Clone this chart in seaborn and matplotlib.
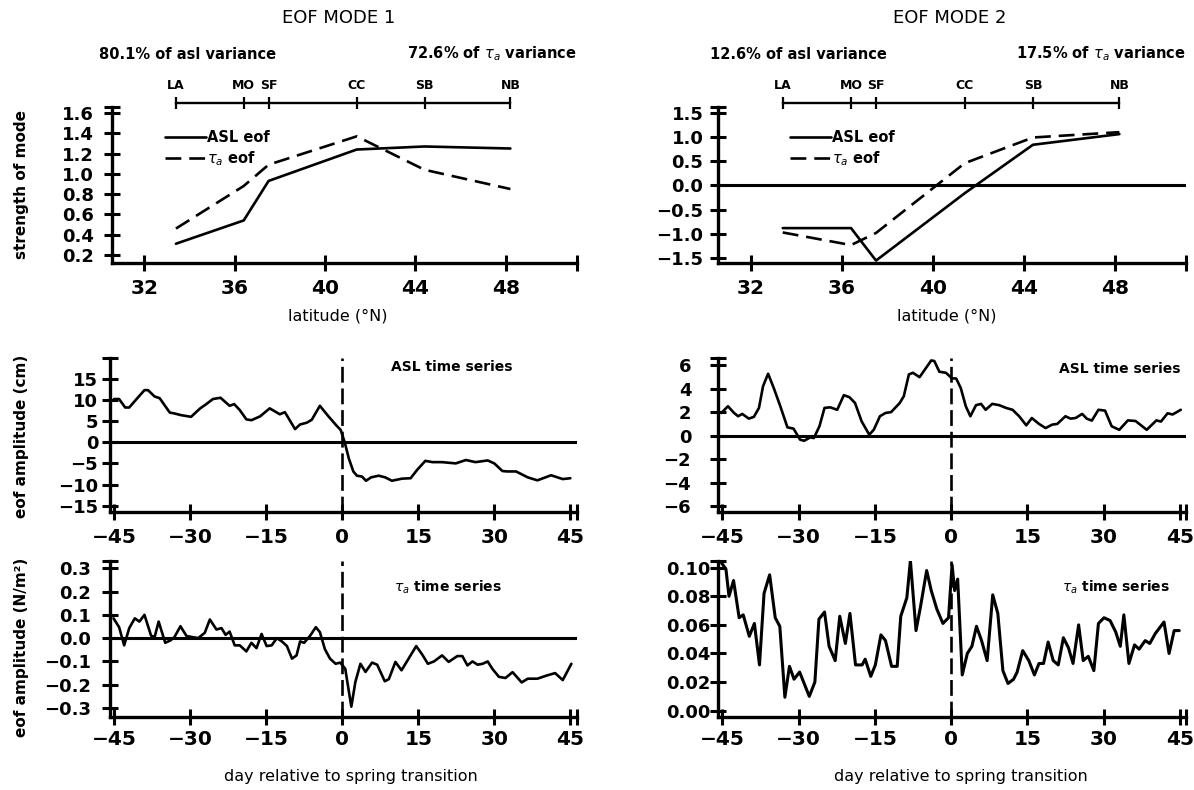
import matplotlib
matplotlib.use("Agg")
import matplotlib.pyplot as plt
import seaborn as sns

sns.set_theme(style="ticks", rc={
    "axes.edgecolor": "black", "text.color": "black", "xtick.color": "black",
    "ytick.color": "black", "axes.labelcolor": "black", "axes.facecolor": "white",
    "figure.facecolor": "white"})
plt.rcParams["font.family"] = ["DejaVu Sans"]
plt.rcParams["axes.unicode_minus"] = True

# ---------------- data ----------------
station_names = ["LA", "MO", "SF", "CC", "SB", "NB"]
station_lat = [33.4, 36.4, 37.5, 41.4, 44.4, 48.2]
mode1_asl = [0.31, 0.54, 0.93, 1.24, 1.27, 1.25]
mode1_tau = [0.46, 0.88, 1.09, 1.37, 1.04, 0.85]
mode2_asl = [-0.88, -0.88, -1.55, -0.16, 0.84, 1.06]
mode2_tau = [-0.97, -1.23, -0.98, 0.46, 0.99, 1.10]

asl1_day = [-45.0, -44.0, -42.8, -42.0, -40.7, -39.0, -38.3, -37.0, -36.0, -34.0,
            -33.1, -31.8, -29.8, -28.0, -26.8, -25.5, -24.0, -22.2, -21.3, -20.2,
            -18.9, -17.9, -16.2, -14.3, -12.3, -11.3, -9.3, -8.3, -7.0, -6.0,
            -4.4, -2.7, -1.1, -0.3, 0.5, 1.3, 2.2, 2.9, 3.9, 4.7,
            5.7, 7.2, 8.5, 9.8, 11.8, 13.5, 14.8, 16.4, 17.8, 19.7,
            22.4, 24.4, 26.3, 28.7, 30.0, 31.6, 32.5, 34.3, 36.6, 38.5,
            41.2, 43.5, 45.0]
asl1_val = [10.2, 10.2, 8.2, 8.2, 10.0, 12.3, 12.3, 10.8, 10.4, 7.0,
            6.8, 6.4, 6.0, 8.0, 9.0, 10.2, 10.5, 8.6, 9.0, 7.6,
            5.4, 5.2, 6.1, 8.0, 6.6, 7.1, 3.1, 4.2, 4.6, 5.3,
            8.6, 6.1, 3.9, 2.9, 0.0, -3.8, -6.9, -7.9, -8.1, -9.1,
            -8.3, -7.9, -8.3, -9.1, -8.6, -8.5, -6.5, -4.4, -4.7, -4.7,
            -5.0, -4.2, -4.7, -4.3, -5.0, -6.8, -6.9, -6.9, -8.3, -9.0,
            -7.8, -8.7, -8.5]

asl2_day = [-45.2, -43.9, -42.7, -41.9, -41.1, -39.8, -38.8, -37.8, -37.0, -36.0,
            -34.9, -33.6, -32.2, -31.0, -29.7, -28.9, -27.7, -27.0, -25.9, -24.9,
            -23.8, -22.4, -21.1, -20.0, -18.9, -17.6, -16.1, -15.2, -14.0, -12.9,
            -11.8, -10.1, -9.3, -8.3, -7.5, -6.2, -4.9, -3.9, -3.3, -2.3,
            -1.0, 0.2, 1.0, 1.9, 2.9, 3.8, 4.9, 5.9, 6.8, 8.1,
            9.5, 10.8, 12.1, 13.4, 14.8, 15.9, 17.3, 18.6, 19.9, 20.9,
            22.5, 23.5, 24.5, 25.8, 26.7, 27.7, 29.0, 30.3, 31.6, 33.1,
            34.8, 36.3, 38.5, 40.4, 41.3, 42.6, 43.6, 45.2]
asl2_val = [1.93, 2.5, 1.93, 1.65, 1.85, 1.45, 1.6, 2.36, 4.2, 5.26,
            4.06, 2.5, 0.71, 0.6, -0.34, -0.43, -0.14, -0.2, 0.8, 2.36,
            2.41, 2.2, 3.44, 3.27, 2.78, 1.22, 0.09, 0.51, 1.65, 1.93,
            2.0, 2.78, 3.35, 5.2, 5.34, 4.97, 5.77, 6.39, 6.34, 5.43,
            5.34, 4.86, 4.86, 4.06, 2.5, 1.65, 2.59, 2.7, 2.2, 2.7,
            2.59, 2.36, 2.2, 1.65, 0.88, 1.5, 1.0, 0.65, 0.94, 1.0,
            1.65, 1.45, 1.5, 1.85, 1.45, 1.28, 2.2, 2.13, 0.8, 0.5,
            1.3, 1.25, 0.5, 1.3, 1.2, 1.9, 1.8, 2.2]

tau1_day = [-45.1, -44.0, -43.0, -42.0, -40.9, -40.0, -39.0, -37.7, -37.0, -36.2,
            -34.9, -33.9, -33.1, -31.9, -30.7, -28.4, -27.1, -26.1, -24.8, -23.8,
            -23.0, -22.2, -21.2, -20.2, -18.9, -17.9, -16.9, -15.9, -14.9, -13.9,
            -12.9, -11.9, -10.9, -9.9, -9.0, -8.3, -7.5, -6.3, -5.2, -4.4,
            -3.4, -2.4, -1.3, -0.4, 0.6, 1.8, 2.6, 3.6, 4.6, 5.9,
            6.9, 8.4, 9.2, 10.5, 11.7, 13.1, 14.6, 15.8, 16.9, 18.1,
            19.7, 21.0, 22.7, 23.7, 24.7, 25.7, 26.7, 27.7, 28.7, 29.6,
            30.9, 32.2, 33.6, 35.4, 36.6, 38.5, 40.4, 42.0, 43.5, 45.2]
tau1_val = [0.085, 0.047, -0.031, 0.043, 0.085, 0.071, 0.100, 0.011, 0.004, 0.071,
            -0.020, -0.010, 0.004, 0.051, 0.009, 0.000, 0.023, 0.080, 0.037, 0.043,
            0.014, 0.028, -0.031, -0.031, -0.057, -0.020, -0.043, 0.018, -0.034, -0.031,
            0.000, -0.014, -0.034, -0.088, -0.074, -0.014, -0.020, 0.011, 0.047, 0.026,
            -0.048, -0.088, -0.110, -0.105, -0.131, -0.294, -0.188, -0.110, -0.145, -0.105,
            -0.114, -0.185, -0.176, -0.102, -0.138, -0.088, -0.034, -0.071, -0.110, -0.100,
            -0.074, -0.102, -0.077, -0.077, -0.117, -0.100, -0.114, -0.110, -0.100, -0.131,
            -0.166, -0.171, -0.146, -0.190, -0.174, -0.174, -0.160, -0.150, -0.180, -0.110]

tau2_day = [-45.2, -44.3, -43.7, -42.8, -41.7, -40.9, -39.7, -38.7, -37.7, -36.8,
            -35.7, -34.6, -33.7, -32.7, -31.8, -30.9, -29.8, -27.9, -26.8, -26.0,
            -24.9, -24.0, -22.8, -21.9, -20.8, -19.9, -18.8, -17.5, -16.9, -15.8,
            -14.9, -13.8, -12.9, -11.7, -10.6, -9.9, -8.7, -8.0, -6.9, -6.0,
            -4.8, -3.9, -2.8, -1.6, -0.5, 0.2, 0.7, 1.3, 2.2, 3.2,
            4.1, 5.0, 6.0, 7.1, 8.2, 9.2, 10.2, 11.2, 12.3, 13.0,
            14.1, 15.3, 16.4, 17.3, 18.2, 19.1, 20.1, 21.1, 22.1, 23.1,
            24.0, 25.1, 26.0, 27.0, 28.1, 29.0, 30.1, 31.3, 32.4, 33.3,
            34.0, 35.0, 36.1, 37.0, 38.2, 39.1, 40.2, 41.9, 42.9, 43.9,
            44.9]
tau2_val = [0.1035, 0.099, 0.080, 0.091, 0.065, 0.067, 0.052, 0.061, 0.032, 0.082,
            0.095, 0.065, 0.059, 0.0094, 0.031, 0.022, 0.027, 0.010, 0.020, 0.064,
            0.069, 0.045, 0.035, 0.066, 0.047, 0.068, 0.032, 0.032, 0.036, 0.024,
            0.032, 0.053, 0.049, 0.031, 0.031, 0.066, 0.079, 0.105, 0.056, 0.073,
            0.098, 0.084, 0.071, 0.061, 0.065, 0.102, 0.084, 0.092, 0.025, 0.040,
            0.045, 0.059, 0.049, 0.035, 0.081, 0.068, 0.028, 0.019, 0.022, 0.027,
            0.042, 0.035, 0.025, 0.033, 0.033, 0.048, 0.035, 0.032, 0.051, 0.044,
            0.033, 0.060, 0.035, 0.038, 0.028, 0.061, 0.065, 0.063, 0.055, 0.045,
            0.067, 0.033, 0.046, 0.043, 0.049, 0.047, 0.054, 0.062, 0.040, 0.056,
            0.056]

lat_ticks = [32, 36, 40, 44, 48]
day_ticks = [-45, -30, -15, 0, 15, 30, 45]
tl_yticks = [0.2, 0.4, 0.6, 0.8, 1.0, 1.2, 1.4, 1.6]
tr_yticks = [-1.5, -1.0, -0.5, 0.0, 0.5, 1.0, 1.5]
ml_yticks = [-15, -10, -5, 0, 5, 10, 15]
mr_yticks = [-6, -4, -2, 0, 2, 4, 6]
bl_yticks = [-0.3, -0.2, -0.1, 0.0, 0.1, 0.2, 0.3]
br_yticks = [0.00, 0.02, 0.04, 0.06, 0.08, 0.10]


def lab(v, d):
    s = f"{v:.{d}f}"
    if s.startswith("-") and float(s) == 0:
        s = s[1:]
    return s.replace("-", "\u2212")


LW_SPINE = 2.4
LW_DATA = 1.9
DASH_TS = (0, (6, 2.2))
DASH_EOF = (0, (6, 3))


def style(ax, xt, xd, xlim, yt, yd, ylim, ypad, xpad):
    ax.set_xlim(xlim)
    ax.set_ylim(ylim)
    ax.set_xticks(list(xt) + [xlim[1]], labels=[lab(v, xd) for v in xt] + [""])
    ax.set_yticks(list(yt) + [ylim[1]], labels=[lab(v, yd) for v in yt] + [""])
    for s in ["top", "right"]:
        ax.spines[s].set_visible(False)
    for s in ["left", "bottom"]:
        ax.spines[s].set_linewidth(LW_SPINE)
        ax.spines[s].set_color("black")
    ax.tick_params(axis="both", direction="inout", length=11, width=2.2, color="black")
    ax.tick_params(axis="x", labelsize=14.5, pad=xpad)
    ax.tick_params(axis="y", labelsize=13, pad=ypad)
    for t in ax.get_xticklabels() + ax.get_yticklabels():
        t.set_fontweight("bold")
    ax.set_xlabel("")
    ax.set_ylabel("")


fig = plt.figure(figsize=(11.94, 7.9), dpi=100)
ax_tl = fig.add_axes([0.0934, 0.6671, 0.3899, 0.1975])
ax_tr = fig.add_axes([0.6013, 0.6671, 0.3924, 0.1975])
ax_ml = fig.add_axes([0.0921, 0.3523, 0.3911, 0.1946])
ax_mr = fig.add_axes([0.6016, 0.3523, 0.3920, 0.1946])
ax_bl = fig.add_axes([0.0921, 0.0928, 0.3911, 0.1977])
ax_br = fig.add_axes([0.6016, 0.0928, 0.3920, 0.1977])

lat_lim = (30.55, 51.15)
day_lim = (-45.8, 46.3)

# ---- EOF spatial patterns ----
for ax, asl, tau, yt, ylim, ypad, lx in [
        (ax_tl, mode1_asl, mode1_tau, tl_yticks, (0.12, 1.66), 7, 0.115),
        (ax_tr, mode2_asl, mode2_tau, tr_yticks, (-1.60, 1.62), 5, 0.154)]:
    if ax is ax_tr:
        ax.axhline(0, color="black", lw=2.2, zorder=1)
    sns.lineplot(x=station_lat, y=asl, ax=ax, color="black", lw=LW_DATA,
                 estimator=None, label="ASL eof")
    sns.lineplot(x=station_lat, y=tau, ax=ax, color="black", lw=LW_DATA,
                 linestyle=DASH_EOF, estimator=None, label=r"$\tau_a$ eof")
    style(ax, lat_ticks, 0, lat_lim, yt, 1, ylim, ypad, 6)
    ax.legend(loc="upper left", bbox_to_anchor=(lx, 0.85), frameon=False,
              borderpad=0, borderaxespad=0, handlelength=2.8, handletextpad=0.05,
              labelspacing=0.25, prop={"weight": "bold", "size": 10.5})
    sec = ax.secondary_xaxis(1.026)
    sec.set_xticks(station_lat, labels=station_names)
    sec.tick_params(axis="x", direction="inout", length=8, width=1.6,
                    labelsize=9, pad=4, color="black")
    for t in sec.get_xticklabels():
        t.set_fontweight("bold")
    sec.spines["top"].set_bounds(station_lat[0], station_lat[-1])
    sec.spines["top"].set_linewidth(1.7)
    sec.spines["top"].set_color("black")
    sec.spines["bottom"].set_visible(False)

# ---- time series ----
panels = [
    (ax_ml, asl1_day, asl1_val, ml_yticks, 0, (-16.4, 19.9), 3, 6, True,
     "ASL time series", 0.732, 0.94),
    (ax_mr, asl2_day, asl2_val, mr_yticks, 0, (-6.45, 6.6), 14, 6, True,
     "ASL time series", 0.857, 0.93),
    (ax_bl, tau1_day, tau1_val, bl_yticks, 1, (-0.337, 0.333), 8, 4, True,
     r"$\tau_a$ time series", 0.724, 0.83),
    (ax_br, tau2_day, tau2_val, br_yticks, 2, (-0.0042, 0.105), 0, 4, False,
     r"$\tau_a$ time series", 0.85, 0.83),
]
for ax, d, v, yt, yd, ylim, ypad, xpad, zero, txt, tx, ty in panels:
    if zero:
        ax.axhline(0, color="black", lw=2.2, zorder=1)
    ax.axvline(0, color="black", lw=LW_DATA, linestyle=DASH_TS, zorder=1)
    sns.lineplot(x=d, y=v, ax=ax, color="black",
                 lw=(2.2 if ax is ax_br else LW_DATA), estimator=None)
    style(ax, day_ticks, 0, day_lim, yt, yd, ylim, ypad, xpad)
    ax.text(tx, ty, txt, transform=ax.transAxes, ha="center", va="center",
            fontsize=10, fontweight="bold")

# ---- figure texts ----
fig.text(0.2835, 0.977, "EOF MODE 1", ha="center", va="center", fontsize=13)
fig.text(0.795, 0.977, "EOF MODE 2", ha="center", va="center", fontsize=13)
fig.text(0.083, 0.9316, "80.1% of asl variance", ha="left", va="center",
         fontsize=10.5, fontweight="bold")
fig.text(0.483, 0.9316, r"72.6% of $\tau_a$ variance", ha="right", va="center",
         fontsize=10.5, fontweight="bold")
fig.text(0.5946, 0.9316, "12.6% of asl variance", ha="left", va="center",
         fontsize=10.5, fontweight="bold")
fig.text(0.9933, 0.9316, r"17.5% of $\tau_a$ variance", ha="right", va="center",
         fontsize=10.5, fontweight="bold")

fig.text(0.0176, 0.766, "strength of mode", rotation=90, ha="center", va="center",
         fontsize=11, fontweight="bold")
fig.text(0.0176, 0.448, "eof amplitude (cm)", rotation=90, ha="center", va="center",
         fontsize=11, fontweight="bold")
fig.text(0.0176, 0.181, "eof amplitude (N/m²)", rotation=90, ha="center", va="center",
         fontsize=11, fontweight="bold")

fig.text(0.283, 0.600, "latitude (°N)", ha="center", va="center", fontsize=11.5)
fig.text(0.793, 0.600, "latitude (°N)", ha="center", va="center", fontsize=11.5)
fig.text(0.294, 0.0165, "day relative to spring transition", ha="center", va="center",
         fontsize=11.5)
fig.text(0.805, 0.0165, "day relative to spring transition", ha="center", va="center",
         fontsize=11.5)

fig.savefig("out.png", dpi=100)
